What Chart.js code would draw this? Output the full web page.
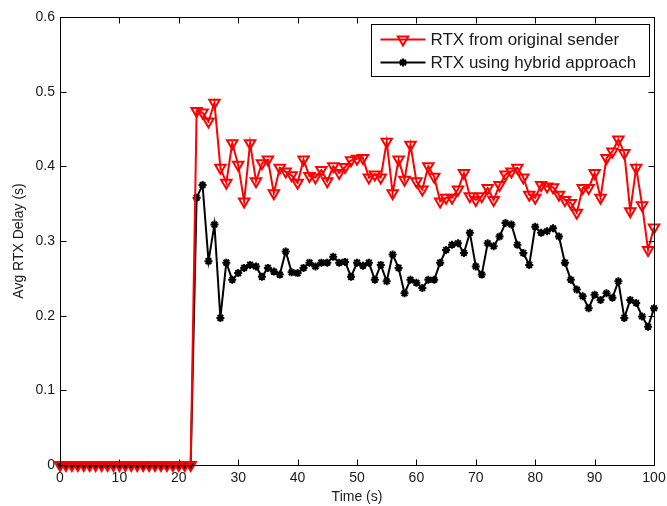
<!DOCTYPE html>
<html>
<head>
<meta charset="utf-8">
<script src="https://cdn.jsdelivr.net/npm/chart.js@4.4.0/dist/chart.umd.min.js"></script>
<style>
html,body{margin:0;padding:0;background:#fff;}
canvas{display:block;}
</style>
</head>
<body>
<canvas id="c" width="667" height="506"></canvas>
<script>
const timeSec = [0,1,2,3,4,5,6,7,8,9,10,11,12,13,14,15,16,17,18,19,20,
21,22,23,24,25,26,27,28,29,30,31,32,33,34,35,36,37,38,39,40,
41,42,43,44,45,46,47,48,49,50,51,52,53,54,55,56,57,58,59,60,
61,62,63,64,65,66,67,68,69,70,71,72,73,74,75,76,77,78,79,80,
81,82,83,84,85,86,87,88,89,90,91,92,93,94,95,96,97,98,99,100];

const seriesNames = ["RTX from original sender", "RTX using hybrid approach"];

const rtxOriginal = [0,0,0,0,0,0,0,0,0,0,0,0,0,0,0,0,0,0,0,0,0,0,0,
0.474,0.472,0.460,0.485,0.398,0.378,0.431,0.402,0.353,0.431,
0.380,0.404,0.409,0.364,0.398,0.393,0.388,0.378,0.409,0.387,
0.385,0.395,0.380,0.400,0.391,0.399,0.408,0.410,0.411,0.385,
0.389,0.385,0.433,0.364,0.409,0.382,0.429,0.380,0.369,0.400,
0.386,0.353,0.358,0.358,0.369,0.391,0.360,0.355,0.360,0.371,
0.355,0.375,0.389,0.393,0.398,0.385,0.362,0.358,0.375,0.373,
0.372,0.362,0.355,0.351,0.338,0.371,0.371,0.391,0.358,0.411,
0.420,0.436,0.418,0.340,0.398,0.348,0.288,0.318];

const rtxHybrid = [0,0,0,0,0,0,0,0,0,0,0,0,0,0,0,0,0,0,0,0,0,0,0,
0.358,0.375,0.273,0.322,0.197,0.271,0.248,0.257,0.264,0.268,
0.266,0.252,0.264,0.259,0.255,0.286,0.258,0.257,0.264,0.271,
0.266,0.271,0.271,0.279,0.271,0.272,0.252,0.271,0.267,0.271,
0.248,0.268,0.246,0.282,0.264,0.230,0.248,0.244,0.237,0.248,
0.248,0.271,0.288,0.295,0.297,0.284,0.311,0.266,0.255,0.297,
0.293,0.306,0.324,0.322,0.295,0.284,0.268,0.319,0.311,0.313,
0.317,0.306,0.271,0.248,0.235,0.226,0.210,0.228,0.221,0.230,
0.224,0.246,0.197,0.221,0.217,0.199,0.185,0.210];

const xTicks = [0,10,20,30,40,50,60,70,80,90,100];
const yTicks = [0,0.1,0.2,0.3,0.4,0.5,0.6];

const FONT = '"Liberation Sans", Arial, Helvetica, sans-serif';
const TEXT = '#1a1a1a';

const redStyle = {
  borderColor: '#ff0000', borderWidth: 2,
  pointStyle: 'triangle', pointRotation: 180, pointRadius: 6,
  pointBorderColor: '#ff0000', pointBackgroundColor: 'rgba(0,0,0,0)', pointBorderWidth: 2
};
const blackStyle = {
  borderColor: '#000000', borderWidth: 2,
  pointStyle: 'star', pointRotation: 0, pointRadius: 4,
  pointBorderColor: '#000000', pointBackgroundColor: '#000000', pointBorderWidth: 2
};

function toPoints(xs, ys){ return xs.map((x,i)=>({x:x, y:ys[i]})); }

const frameAndLegend = {
  id: 'frameAndLegend',
  afterDraw(chart){
    const ctx = chart.ctx;
    const a = chart.chartArea;
    const xs = chart.scales.x, ys = chart.scales.y;
    ctx.save();
    ctx.strokeStyle = '#000';
    ctx.lineWidth = 1;
    const L = Math.round(a.left)+0.5, R = Math.round(a.right)+0.5, T = Math.round(a.top)+0.5, B = Math.round(a.bottom)+0.5;
    ctx.strokeRect(L, T, R-L, B-T);
    const tl = 6;
    ctx.beginPath();
    xTicks.forEach(v=>{
      const px = Math.round(xs.getPixelForValue(v))+0.5;
      ctx.moveTo(px, B); ctx.lineTo(px, B-tl);
      ctx.moveTo(px, T); ctx.lineTo(px, T+tl);
    });
    yTicks.forEach(v=>{
      const py = Math.round(ys.getPixelForValue(v))+0.5;
      ctx.moveTo(L, py); ctx.lineTo(L+tl, py);
      ctx.moveTo(R, py); ctx.lineTo(R-tl, py);
    });
    ctx.stroke();

    // legend box
    const bw = 278, bh = 52;
    const bx = Math.round(a.right) - 5 - bw + 0.5;
    const by = Math.round(a.top) + 7 + 0.5;
    ctx.fillStyle = '#fff';
    ctx.fillRect(bx, by, bw, bh);
    ctx.strokeStyle = '#000';
    ctx.lineWidth = 1;
    ctx.strokeRect(bx, by, bw, bh);
    const styles = [redStyle, blackStyle];
    const rowsY = [by + 15, by + 38];
    ctx.font = '17px ' + FONT;
    ctx.textBaseline = 'middle';
    ctx.textAlign = 'left';
    styles.forEach((s, i)=>{
      const y = rowsY[i];
      ctx.strokeStyle = s.borderColor;
      ctx.lineWidth = s.borderWidth;
      ctx.beginPath();
      ctx.moveTo(bx + 9, y); ctx.lineTo(bx + 54, y);
      ctx.stroke();
      ctx.fillStyle = s.pointBackgroundColor;
      ctx.strokeStyle = s.pointBorderColor;
      ctx.lineWidth = s.pointBorderWidth;
      Chart.helpers.drawPoint(ctx, {pointStyle: s.pointStyle, rotation: s.pointRotation, radius: s.pointRadius, borderWidth: s.pointBorderWidth}, bx + 31.5, y);
      ctx.fillStyle = TEXT;
      ctx.fillText(seriesNames[i], bx + 59, y + 1);
    });
    ctx.restore();
  }
};

new Chart(document.getElementById('c'), {
  type: 'line',
  data: {
    datasets: [
      Object.assign({ label: seriesNames[0], data: toPoints(timeSec, rtxOriginal), clip: false, tension: 0, fill: false }, redStyle),
      Object.assign({ label: seriesNames[1], data: toPoints(timeSec, rtxHybrid), clip: false, tension: 0, fill: false }, blackStyle)
    ]
  },
  options: {
    responsive: false,
    devicePixelRatio: 1,
    animation: false,
    layout: { padding: { left: 0, right: 13, top: 17, bottom: 0 } },
    plugins: { legend: { display: false }, tooltip: { enabled: false } },
    scales: {
      x: {
        type: 'linear', min: 0, max: 100,
        afterBuildTicks(scale){ scale.ticks = xTicks.map(v=>({value:v})); },
        afterFit(scale){ scale.height = 41; scale.paddingLeft = 0; scale.paddingRight = 0; },
        grid: { display: false, drawTicks: false },
        border: { display: false },
        ticks: { autoSkip: false, maxRotation: 0, padding: 5, color: TEXT, font: { family: FONT, size: 14 }, callback: v => String(v) },
        title: { display: true, text: 'Time (s)', color: TEXT, font: { family: FONT, size: 14 }, padding: { top: 0, bottom: 0 } }
      },
      y: {
        type: 'linear', min: 0, max: 0.6,
        afterBuildTicks(scale){ scale.ticks = yTicks.map(v=>({value:v})); },
        afterFit(scale){ scale.width = 60; scale.paddingTop = 0; scale.paddingBottom = 0; },
        grid: { display: false, drawTicks: false },
        border: { display: false },
        ticks: { autoSkip: false, padding: 5, color: TEXT, font: { family: FONT, size: 14 }, callback: v => (v === 0 ? '0' : v.toFixed(1)) },
        title: { display: true, text: 'Avg RTX Delay (s)', color: TEXT, font: { family: FONT, size: 14 }, padding: { top: 11, bottom: 0 } }
      }
    }
  },
  plugins: [frameAndLegend]
});
</script>
</body>
</html>
